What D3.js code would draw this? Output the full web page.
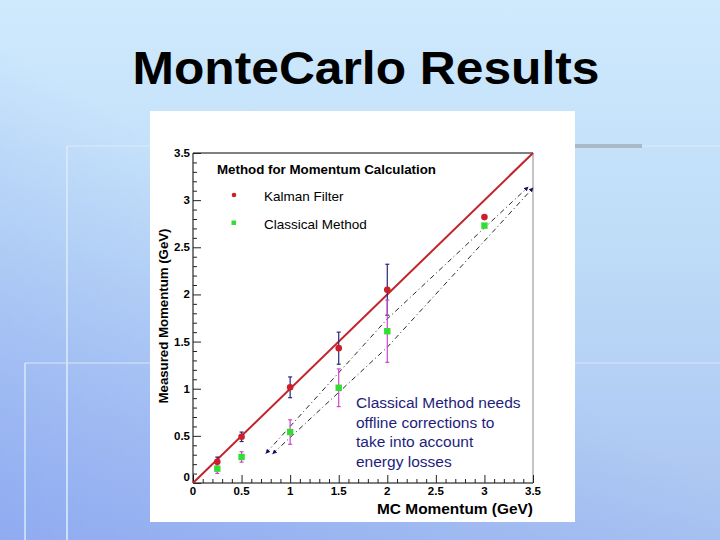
<!DOCTYPE html>
<html><head><meta charset="utf-8">
<script src="https://cdn.jsdelivr.net/npm/d3@7"></script>
<style>html,body{margin:0;padding:0;overflow:hidden;}svg{display:block;}</style>
</head><body>
<svg id="c" width="720" height="540"></svg>
<script>
// ---- data ----
const mcMomentum = [0.25, 0.5, 1, 1.5, 2, 3];
const kalman = [0.225, 0.49, 1.015, 1.43, 2.05, 2.82];
const kalmanErr = [0.05, 0.05, 0.11, 0.17, 0.27, 0];
const classical = [0.152, 0.276, 0.54, 1.01, 1.61, 2.73];
const classicalErr = [0.05, 0.055, 0.13, 0.2, 0.33, 0];
const idealLine = [[0, 0], [3.5, 3.5]];
const corrUpper = [[0.75, 0.315], [2.0, 1.74], [3.45, 3.14]];
const corrLower = [[0.82, 0.31], [2.0, 1.44], [3.5, 3.13]];
const majorTicks = [0, 0.5, 1, 1.5, 2, 2.5, 3, 3.5];
const tickLabels = ["0", "0.5", "1", "1.5", "2", "2.5", "3", "3.5"];
const annotation = ["Classical Method needs", "offline corrections to", "take into account", "energy losses"];
const legendItems = ["Kalman Filter", "Classical Method"];

const svg = d3.select("#c");
const defs = svg.append("defs");
const g1 = defs.append("linearGradient").attr("id","bg").attr("x1",0).attr("y1",0).attr("x2",0).attr("y2",1);
g1.append("stop").attr("offset","0").attr("stop-color","#cfeafd");
g1.append("stop").attr("offset","0.45").attr("stop-color","#bfdcf8");
g1.append("stop").attr("offset","1").attr("stop-color","#a9c2f1");
const g2 = defs.append("linearGradient").attr("id","bgl").attr("x1",0).attr("y1",1).attr("x2",0.45).attr("y2",0.45);
g2.append("stop").attr("offset","0").attr("stop-color","#7f9cf0").attr("stop-opacity",0.6);
g2.append("stop").attr("offset","1").attr("stop-color","#7f9cf0").attr("stop-opacity",0);

svg.append("rect").attr("width",720).attr("height",540).attr("fill","url(#bg)");
svg.append("rect").attr("width",720).attr("height",540).attr("fill","url(#bgl)");

// decorative slide lines
const deco = svg.append("g").attr("fill","none");
deco.append("line").attr("x1",67).attr("y1",146).attr("x2",720).attr("y2",146).attr("stroke","#dbeafb").attr("stroke-width",1.5).attr("opacity",0.7);
deco.append("line").attr("x1",67).attr("y1",146).attr("x2",67).attr("y2",540).attr("stroke","#dbeafb").attr("stroke-width",2).attr("opacity",0.8);
deco.append("line").attr("x1",25).attr("y1",363).attr("x2",720).attr("y2",363).attr("stroke","#d6e4fa").attr("stroke-width",1.5).attr("opacity",0.7);
deco.append("line").attr("x1",25).attr("y1",363).attr("x2",25).attr("y2",540).attr("stroke","#d6e4fa").attr("stroke-width",2).attr("opacity",0.8);
deco.append("line").attr("x1",575).attr("y1",146).attr("x2",642).attr("y2",146).attr("stroke","#a9b9c6").attr("stroke-width",4);

// title
svg.append("text").attr("x",366).attr("y",84).attr("text-anchor","middle")
  .attr("font-family","Liberation Sans, Arial, sans-serif").attr("font-weight","bold")
  .attr("font-size",46).attr("textLength",467).attr("lengthAdjust","spacingAndGlyphs")
  .attr("fill","#000").text("MonteCarlo Results");

// white panel
svg.append("rect").attr("x",150).attr("y",111).attr("width",425).attr("height",411).attr("fill","#fff");

const x = d3.scaleLinear().domain([0,3.5]).range([193,533]);
const y = d3.scaleLinear().domain([0,3.5]).range([483,153]);
const font = "Liberation Sans, Arial, Helvetica, sans-serif";

// frame
svg.append("line").attr("x1",x(0)).attr("x2",x(3.5)).attr("y1",y(3.5)).attr("y2",y(3.5)).attr("stroke","#000");
svg.append("line").attr("x1",x(3.5)).attr("x2",x(3.5)).attr("y1",y(3.5)).attr("y2",y(0)).attr("stroke","#8a8a8a");

// axes
const minor = d3.range(0, 3.51, 0.1).map(v => +v.toFixed(2));
const xAxis = d3.axisTop(x).tickValues(minor).tickSize(4).tickFormat("");
const gx = svg.append("g").attr("transform",`translate(0,${y(0)})`).call(xAxis);
gx.selectAll(".tick line").filter(d => majorTicks.some(m => Math.abs(m-d)<1e-6)).attr("y2",-8);
const yAxis = d3.axisRight(y).tickValues(minor).tickSize(4).tickFormat("");
const gy = svg.append("g").attr("transform",`translate(${x(0)},0)`).call(yAxis);
gy.selectAll(".tick line").filter(d => majorTicks.some(m => Math.abs(m-d)<1e-6)).attr("x2",8);
[gx, gy].forEach(g => { g.select(".domain").attr("stroke","#000").attr("stroke-width",1); g.selectAll(".tick line").attr("stroke","#222"); });
gx.select(".domain").attr("d",`M${x(0)},0H${x(3.5)}`);
gy.select(".domain").attr("d",`M0,${y(0)}V${y(3.5)}`);

// tick labels
svg.append("g").selectAll("text").data(majorTicks).join("text")
  .attr("x", d => x(d)).attr("y", 495).attr("text-anchor","middle")
  .attr("font-family",font).attr("font-weight","bold").attr("font-size",11.5)
  .text((d,i) => tickLabels[i]);
svg.append("g").selectAll("text").data(majorTicks).join("text")
  .attr("x", 190).attr("y", d => y(d) + (d===0 ? -2 : 4)).attr("text-anchor","end")
  .attr("font-family",font).attr("font-weight","bold").attr("font-size",11.5)
  .text((d,i) => tickLabels[i]);

// axis titles
svg.append("text").attr("x",533).attr("y",514).attr("text-anchor","end")
  .attr("font-family",font).attr("font-weight","bold").attr("font-size",15.5)
  .attr("textLength",156).attr("lengthAdjust","spacingAndGlyphs").text("MC Momentum (GeV)");
svg.append("text").attr("transform","translate(168,316) rotate(-90)").attr("text-anchor","middle")
  .attr("font-family",font).attr("font-weight","bold").attr("font-size",13.5)
  .attr("textLength",175).attr("lengthAdjust","spacingAndGlyphs").text("Measured Momentum (GeV)");

// ideal line
const line = d3.line().x(d => x(d[0])).y(d => y(d[1]));
svg.append("path").attr("d", line(idealLine)).attr("stroke","#c2232c").attr("stroke-width",2).attr("fill","none");

// correction dash-dot lines with arrowheads
const mk = defs.append("marker").attr("id","arr").attr("viewBox","0 0 10 10").attr("refX",9).attr("refY",5)
  .attr("markerWidth",5).attr("markerHeight",5).attr("orient","auto-start-reverse");
mk.append("path").attr("d","M0,0L10,5L0,10z").attr("fill","#101060");
[corrUpper, corrLower].forEach(pts => {
  svg.append("path").attr("d", line(pts)).attr("stroke","#111").attr("stroke-width",0.9).attr("fill","none")
    .attr("stroke-dasharray","5,3,1,3").attr("marker-start","url(#arr)").attr("marker-end","url(#arr)");
});

// error bars
function errBars(vals, errs, color) {
  const gE = svg.append("g").attr("stroke", color).attr("stroke-width",1.2);
  mcMomentum.forEach((m,i) => {
    if (!errs[i]) return;
    gE.append("line").attr("x1",x(m)).attr("x2",x(m)).attr("y1",y(vals[i]-errs[i])).attr("y2",y(vals[i]+errs[i]));
    [vals[i]-errs[i], vals[i]+errs[i]].forEach(v => gE.append("line").attr("x1",x(m)-2).attr("x2",x(m)+2).attr("y1",y(v)).attr("y2",y(v)));
  });
}
errBars(kalman, kalmanErr, "#26267a");
errBars(classical, classicalErr, "#cc44cc");

// markers
svg.append("g").selectAll("circle").data(mcMomentum).join("circle")
  .attr("cx", d => x(d)).attr("cy", (d,i) => y(kalman[i])).attr("r",3.3).attr("fill","#cc1f2a");
svg.append("g").selectAll("rect").data(mcMomentum).join("rect")
  .attr("x", d => x(d)-3.2).attr("y", (d,i) => y(classical[i])-3.2).attr("width",6.4).attr("height",6.4).attr("fill","#33dd33");

// legend
svg.append("text").attr("x",217).attr("y",174).attr("font-family",font).attr("font-weight","bold")
  .attr("font-size",13).attr("textLength",219).attr("lengthAdjust","spacingAndGlyphs").text("Method for Momentum Calculation");
svg.append("circle").attr("cx",234).attr("cy",195).attr("r",2.3).attr("fill","#cc1f2a");
svg.append("rect").attr("x",231.5).attr("y",220.5).attr("width",4.5).attr("height",4.5).attr("fill","#33dd33");
svg.append("g").selectAll("text").data(legendItems).join("text")
  .attr("x",264).attr("y",(d,i) => 201 + i*28).attr("font-family",font).attr("font-size",13.5)
  .text(d => d);

// annotation
svg.append("g").selectAll("text").data(annotation).join("text")
  .attr("x",356).attr("y",(d,i) => 408 + i*19.5).attr("font-family",font).attr("font-size",15.5)
  .attr("fill","#1e1e7a").text(d => d);
</script>
</body></html>
